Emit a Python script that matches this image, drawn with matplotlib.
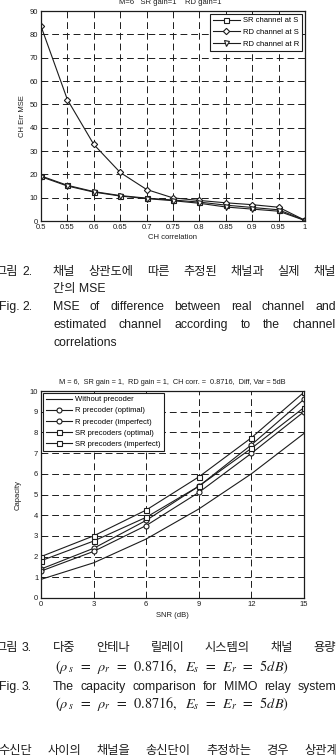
import matplotlib
matplotlib.use("Agg")
import matplotlib.pyplot as plt

W, H = 336, 755

# Fig. 2 data
corr = [0.5, 0.55, 0.6, 0.65, 0.7, 0.75, 0.8, 0.85, 0.9, 0.95, 1.0]
sr_at_s = [19.3, 15.3, 12.6, 10.9, 9.8, 9.0, 8.1, 6.8, 5.8, 4.8, 0.3]
rd_at_s = [83.5, 52.0, 32.8, 20.8, 13.5, 9.9, 8.8, 7.8, 7.0, 5.9, 0.3]
rd_at_r = [19.0, 15.0, 12.4, 10.7, 9.6, 8.7, 7.6, 6.0, 5.1, 4.2, 0.2]

# Fig. 3 data
snr = [0, 3, 6, 9, 12, 15]
no_prec = [0.9, 1.7, 2.85, 4.3, 6.0, 7.95]
r_opt = [1.4, 2.4, 3.75, 5.4, 7.4, 9.6]
r_imp = [1.3, 2.25, 3.5, 5.1, 6.99, 9.0]
sr_opt = [2.0, 3.0, 4.25, 5.85, 7.74, 9.94]
sr_imp = [1.8, 2.75, 3.9, 5.4, 7.23, 9.2]

INK = "#1c1c1c"
plt.rcParams["font.family"] = ["Liberation Sans", "Noto Sans CJK KR"]
plt.rcParams["mathtext.fontset"] = "stix"
plt.rcParams["axes.linewidth"] = 0.9
plt.rcParams["xtick.direction"] = "in"
plt.rcParams["ytick.direction"] = "in"

fig = plt.figure(figsize=(W / 100, H / 100), dpi=100)


def px_axes(l, t, r, b):
    return fig.add_axes([l / W, 1 - b / H, (r - l) / W, (b - t) / H])


def ftext(x, y, s, **kw):
    return fig.text(x / W, 1 - y / H, s, **kw)


def justify(words, x0, x1, y, size):
    rend = fig.canvas.get_renderer()
    arts = [ftext(0, y, w, fontsize=size, va="center", color=INK) for w in words]
    widths = [a.get_window_extent(rend).width for a in arts]
    gap = (x1 - x0 - sum(widths)) / max(len(words) - 1, 1)
    x = x0
    for a, w in zip(arts, widths):
        a.set_x(x / W)
        x += w + gap


def style(ax):
    ax.grid(True, color=INK, linestyle=(0, (7, 4)), linewidth=0.7)
    ax.tick_params(labelsize=5.5, length=2.5, width=0.6, pad=2, colors=INK)
    for s in ax.spines.values():
        s.set_color(INK)


mk = dict(color=INK, linewidth=0.8, markersize=3.6, markerfacecolor="white",
          markeredgewidth=0.8)

# ---- top chart ----
ax1 = px_axes(41, 11, 305, 221)
ax1.plot(corr, sr_at_s, marker="s", label="SR channel at S", **mk)
ax1.plot(corr, rd_at_s, marker="D", label="RD channel at S", **dict(mk, markersize=3.2))
ax1.plot(corr, rd_at_r, marker="v", label="RD channel at R", **mk)
ax1.set_xlim(0.5, 1.0)
ax1.set_ylim(0, 90)
ax1.set_xticks(corr)
ax1.set_xticklabels(["0.5", "0.55", "0.6", "0.65", "0.7", "0.75", "0.8", "0.85", "0.9", "0.95", "1"])
ax1.set_yticks(range(0, 91, 10))
style(ax1)
ax1.set_xlabel("CH correlation", fontsize=5.5, labelpad=2, color=INK)
ax1.set_ylabel("CH Err MSE", fontsize=5.5, labelpad=3, color=INK)
leg = ax1.legend(loc="upper right", fontsize=5.5, handlelength=3.5, borderpad=0.4,
                 labelspacing=0.55, borderaxespad=0.4, fancybox=False, framealpha=1,
                 edgecolor=INK, handletextpad=0.4)
leg.get_frame().set_linewidth(0.8)
ftext(170, 2, "M=6   SR gain=1    RD gain=1", fontsize=5.5, ha="center", va="center", color=INK)

# ---- bottom chart ----
ax2 = px_axes(41, 391, 304, 598)
ax2.plot(snr, no_prec, label="Without precoder", color=INK, linewidth=0.8)
ax2.plot(snr, r_opt, marker="o", label="R precoder (optimal)", **mk)
ax2.plot(snr, r_imp, marker="o", label="R precoder (imperfect)", **mk)
ax2.plot(snr, sr_opt, marker="s", label="SR precoders (optimal)", **mk)
ax2.plot(snr, sr_imp, marker="s", label="SR precoders (imperfect)", **mk)
ax2.set_xlim(0, 15)
ax2.set_ylim(0, 10)
ax2.set_xticks(snr)
ax2.set_yticks(range(0, 11))
style(ax2)
ax2.set_xlabel("SNR (dB)", fontsize=5.5, labelpad=3, color=INK)
ax2.set_ylabel("Capacity", fontsize=5.5, labelpad=6, color=INK)
leg2 = ax2.legend(loc="upper left", fontsize=5.5, handlelength=3.4, borderpad=0.4,
                  labelspacing=0.5, borderaxespad=0.25, fancybox=False, framealpha=1,
                  edgecolor=INK, handletextpad=0.4)
leg2.get_frame().set_linewidth(0.8)
ftext(172, 382, "M = 6,  SR gain = 1,  RD gain = 1,  CH corr. =  0.8716,  Diff, Var = 5dB",
      fontsize=5.3, ha="center", va="center", color=INK)

# ---- captions ----
KO = 8.8
EN = 8.8
ftext(-5, 272, "그림", fontsize=KO, va="center", color=INK)
ftext(22, 272, "2.", fontsize=EN, va="center", color=INK)
justify("채널 상관도에 따른 추정된 채널과 실제 채널".split(), 53, 336, 272, KO)
ftext(53, 289, "간의 MSE", fontsize=KO, va="center", color=INK)
ftext(-1, 307, "Fig.", fontsize=EN, va="center", color=INK)
ftext(22, 307, "2.", fontsize=EN, va="center", color=INK)
justify("MSE of difference between real channel and".split(), 53, 336, 307, EN)
justify("estimated channel according to the channel".split(), 53, 336, 325, EN)
ftext(53, 343, "correlations", fontsize=EN, va="center", color=INK)

formula = r"$(\rho_{\;s}\ \,=\ \,\rho_r\ \,=\ \,0.8716,\ \ E_s\ \,=\ \,E_r\ \,=\ \,5dB)$"
ftext(-5, 648, "그림", fontsize=KO, va="center", color=INK)
ftext(22, 648, "3.", fontsize=EN, va="center", color=INK)
justify("다중 안테나 릴레이 시스템의 채널 용량".split(), 53, 336, 648, KO)
ftext(55, 667, formula, fontsize=10.3, va="center", color=INK)
ftext(-1, 687, "Fig.", fontsize=EN, va="center", color=INK)
ftext(22, 687, "3.", fontsize=EN, va="center", color=INK)
justify("The capacity comparison for MIMO relay system".split(), 53, 336, 687, EN)
ftext(55, 704, formula, fontsize=10.3, va="center", color=INK)
justify("수신단 사이의 채널을 송신단이 추정하는 경우 상관계".split(), -2, 338, 751, KO)

fig.savefig("out.png", dpi=100)
